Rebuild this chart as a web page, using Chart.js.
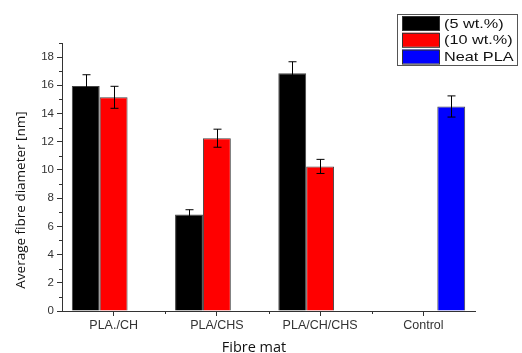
<!DOCTYPE html>
<html>
<head>
<meta charset="utf-8">
<script src="https://cdn.jsdelivr.net/npm/chart.js@4/dist/chart.umd.min.js"></script>
<style>
  html, body { margin: 0; padding: 0; background: #fff; }
  #wrap { width: 522px; height: 353px; position: relative; }
</style>
</head>
<body>
<div id="wrap"><canvas id="chart"></canvas></div>
<script>
const categories = ['PLA./CH', 'PLA/CHS', 'PLA/CH/CHS', 'Control'];
const seriesNames = ['(5 wt.%)', '(10 wt.%)', 'Neat PLA'];
const seriesColors = ['#000000', '#ff0000', '#0000ff'];
const fivePct = [15.95, 6.85, 16.85, null];
const tenPct = [15.15, 12.25, 10.25, null];
const neatPla = [null, null, null, 14.5];
const fivePctErr = [0.8, 0.33, 0.82, 0];
const tenPctErr = [0.78, 0.64, 0.5, 0];
const neatPlaErr = [0, 0, 0, 0.75];
const yTicks = [0, 2, 4, 6, 8, 10, 12, 14, 16, 18];

const axisColor = '#333';

// error bars, minor ticks, axis titles and boxed legend
const extras = {
  id: 'extras',
  afterDatasetsDraw(chart) {
    const ctx = chart.ctx;
    const y = chart.scales.y, x = chart.scales.x;
    const errs = [fivePctErr, tenPctErr, neatPlaErr];
    ctx.save();
    ctx.strokeStyle = '#000';
    ctx.lineWidth = 1;
    chart.data.datasets.forEach((ds, di) => {
      chart.getDatasetMeta(di).data.forEach((bar, i) => {
        const v = ds.data[i];
        const e = errs[di][i];
        if (v == null || !e) return;
        const px = Math.round(bar.x) + 0.5;
        const top = y.getPixelForValue(v + e);
        const bot = y.getPixelForValue(v - e);
        ctx.beginPath();
        ctx.moveTo(px, top); ctx.lineTo(px, bot);
        ctx.moveTo(px - 4, top); ctx.lineTo(px + 4, top);
        ctx.moveTo(px - 4, bot); ctx.lineTo(px + 4, bot);
        ctx.stroke();
      });
    });

    // minor ticks
    ctx.strokeStyle = axisColor;
    const left = chart.chartArea.left, bottom = chart.chartArea.bottom;
    ctx.beginPath();
    for (let v = 1; v <= 19; v += 2) {
      const py = Math.round(y.getPixelForValue(v)) + 0.5;
      ctx.moveTo(left, py); ctx.lineTo(left - 3, py);
    }
    const half = (x.getPixelForTick(1) - x.getPixelForTick(0)) / 2;
    for (let i = 0; i < categories.length - 1; i++) {
      const px = Math.round(x.getPixelForTick(i) + half) + 0.5;
      ctx.moveTo(px, bottom); ctx.lineTo(px, bottom + 3);
    }
    ctx.stroke();

    // axis titles
    ctx.fillStyle = '#111';
    ctx.font = '14.5px "Open Sans"';
    ctx.textAlign = 'center';
    ctx.textBaseline = 'alphabetic';
    ctx.fillText('Fibre mat', 254, 352);
    ctx.font = '13.5px "Open Sans"';
    ctx.textBaseline = 'middle';
    ctx.save();
    ctx.translate(21, 200);
    ctx.rotate(-Math.PI / 2);
    ctx.fillText('Average fibre diameter [nm]', 0, 0);
    ctx.restore();

    // legend box (text is a bit stretched sideways in the original)
    const lx = 397, ly = 14, lw = 120, lh = 51;
    ctx.strokeStyle = '#555';
    ctx.strokeRect(lx + 0.5, ly + 0.5, lw, lh);
    ctx.font = '13px "Liberation Sans"';
    ctx.textAlign = 'left';
    seriesNames.forEach((name, i) => {
      const ry = ly + 2 + i * 16.8;
      ctx.fillStyle = seriesColors[i];
      ctx.fillRect(402, ry, 37, 14);
      ctx.strokeStyle = '#333';
      ctx.strokeRect(402.5, ry + 0.5, 37, 14);
      ctx.fillStyle = '#111';
      ctx.save();
      ctx.translate(444, ry + 8);
      ctx.scale(1.25, 1);
      ctx.fillText(name, 0, 0);
      ctx.restore();
    });
    ctx.restore();
  }
};

const seriesData = [fivePct, tenPct, neatPla];

new Chart(document.getElementById('chart'), {
  type: 'bar',
  data: {
    labels: categories,
    datasets: seriesNames.map((name, i) => ({
      label: name,
      data: seriesData[i],
      backgroundColor: seriesColors[i],
      borderColor: '#444',
      borderWidth: 1
    }))
  },
  options: {
    responsive: true,
    maintainAspectRatio: false,
    animation: false,
    categoryPercentage: 0.81,
    barPercentage: 1,
    layout: { padding: { left: 0, right: 47, top: 43, bottom: 0 } },
    plugins: {
      legend: { display: false },
      tooltip: { enabled: false }
    },
    scales: {
      x: {
        grid: { display: true, drawOnChartArea: false, offset: false, tickLength: 5, color: axisColor },
        border: { display: true, color: axisColor, width: 1 },
        ticks: { color: '#333', font: { family: 'Liberation Sans', size: 12.5 }, padding: 2, maxRotation: 0 },
        afterFit(scale) { scale.height = 42; }
      },
      y: {
        min: 0,
        max: 19,
        grid: { display: true, drawOnChartArea: false, tickLength: 5, color: axisColor },
        border: { display: true, color: axisColor, width: 1 },
        ticks: { color: '#333', font: { family: 'Liberation Sans', size: 11.5 }, padding: 3, stepSize: 2 },
        afterBuildTicks(scale) { scale.ticks = yTicks.map(v => ({ value: v })); },
        afterFit(scale) { scale.width = 62; }
      }
    }
  },
  plugins: [extras]
});
</script>
</body>
</html>
